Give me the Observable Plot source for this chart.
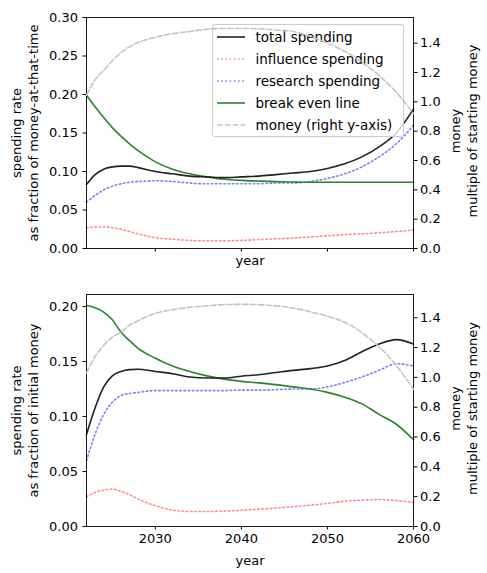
<!DOCTYPE html>
<html><head><meta charset="utf-8">
<script src="https://cdn.jsdelivr.net/npm/d3@7"></script>
<script src="https://cdn.jsdelivr.net/npm/@observablehq/plot@0.6"></script>
<style>
body{margin:0;background:#fff;}
#chart{position:relative;width:487px;height:573px;font-family:"DejaVu Sans",sans-serif;overflow:hidden;}
#chart > svg{position:absolute;left:0;}
.legend{position:absolute;left:211.5px;top:24px;width:192px;height:113px;box-sizing:border-box;border:1px solid #cccccc;border-radius:3px;background:rgba(255,255,255,0.8);font-family:"DejaVu Sans",sans-serif;font-size:13.5px;color:#000;}
.legend .row{position:absolute;left:0;height:20px;display:flex;align-items:center;white-space:nowrap;}
.legend svg{margin-left:4px;margin-right:11px;}
</style></head><body><div id="chart"></div>
<script>
// ---- data ----
const years = [2022,2023,2024,2025,2026,2027,2028,2030,2032,2034,2036,2038,2040,2042,2044,2046,2048,2050,2052,2054,2056,2058,2060];

// top panel: spending rate as fraction of money-at-that-time
const topTotal     = [0.083,0.096,0.103,0.106,0.107,0.107,0.105,0.100,0.097,0.094,0.093,0.092,0.093,0.094,0.096,0.098,0.100,0.104,0.110,0.119,0.132,0.150,0.181];
const topInfluence = [0.027,0.028,0.028,0.027,0.025,0.022,0.019,0.014,0.012,0.0105,0.010,0.010,0.0105,0.0115,0.0125,0.0135,0.015,0.0165,0.018,0.019,0.0205,0.022,0.024];
const topResearch  = [0.060,0.069,0.076,0.081,0.084,0.086,0.087,0.088,0.087,0.085,0.084,0.084,0.084,0.084,0.085,0.085,0.087,0.091,0.097,0.106,0.119,0.136,0.160];
const topBreakEven = [0.199,0.184,0.170,0.157,0.146,0.136,0.127,0.1125,0.103,0.097,0.093,0.090,0.0885,0.0876,0.0868,0.0863,0.086,0.086,0.086,0.086,0.086,0.086,0.086];
const topMoney     = [1.045,1.15,1.215,1.28,1.335,1.375,1.405,1.44,1.465,1.48,1.495,1.50,1.50,1.498,1.49,1.48,1.445,1.40,1.345,1.27,1.18,1.065,0.92];

// bottom panel: spending rate as fraction of initial money
const botTotal     = [0.0836,0.108,0.127,0.137,0.141,0.1427,0.143,0.141,0.139,0.136,0.135,0.135,0.1367,0.138,0.140,0.142,0.1436,0.146,0.151,0.159,0.166,0.170,0.166];
const botInfluence = [0.027,0.031,0.033,0.034,0.032,0.029,0.025,0.019,0.015,0.0136,0.0136,0.014,0.0148,0.0158,0.0167,0.018,0.0194,0.021,0.023,0.024,0.0245,0.0236,0.022];
const botResearch  = [0.060,0.084,0.102,0.113,0.119,0.121,0.122,0.1236,0.1236,0.1236,0.1236,0.1236,0.124,0.124,0.1245,0.125,0.125,0.127,0.131,0.136,0.142,0.148,0.146];
const botBreakEven = [0.201,0.199,0.195,0.188,0.177,0.169,0.162,0.153,0.146,0.141,0.137,0.134,0.132,0.1306,0.129,0.127,0.125,0.122,0.1176,0.1115,0.102,0.093,0.079];
const botMoney     = [1.03,1.14,1.215,1.27,1.305,1.35,1.38,1.43,1.454,1.47,1.48,1.488,1.49,1.488,1.48,1.465,1.44,1.41,1.37,1.30,1.205,1.08,0.92];

const xTicks = [2030,2040,2050,2060];
const topLeftTicks = [0,0.05,0.10,0.15,0.20,0.25,0.30];
const botLeftTicks = [0,0.05,0.10,0.15,0.20];
const rightTicks = [0,0.2,0.4,0.6,0.8,1.0,1.2,1.4];

const legendItems = ["total spending","influence spending","research spending","break even line","money (right y-axis)"];

// ---- styles ----
const S = {
  total:     {stroke:"#222222"},
  influence: {stroke:"#ff8c8c", strokeDasharray:"1.6,2.6"},
  research:  {stroke:"#8080ff", strokeDasharray:"1.6,2.6"},
  breakEven: {stroke:"#2a842a"},
  money:     {stroke:"#c4c4c4", strokeDasharray:"5.5,2.4"}
};

const W = 487;
const chartEl = document.getElementById("chart");
const rows = vals => years.map((year,i)=>({year, v: vals[i]}));

function panel(cfg){
  const k = cfg.yMax / cfg.rMax;
  const common = {
    width: W, height: cfg.height,
    marginTop: cfg.mt, marginBottom: cfg.mb, marginLeft: 86, marginRight: 74,
    y: {domain:[0,cfg.yMax]},
    style: {fontFamily:"DejaVu Sans", fontSize:"13px", color:"#000", background:"transparent", overflow:"visible"}
  };
  const line = (vals, st, f = d => d.v) => Plot.line(rows(vals), {x:"year", y:f, curve:"monotone-x", strokeWidth:1.6, ...st});
  const base = Plot.plot({...common, x: {domain:[2022,2060]}, marks:[
    Plot.axisY({ticks: cfg.leftTicks, tickSize:3.5, tickPadding:5, tickFormat: d => d.toFixed(2), label:null}),
    Plot.axisX({ticks: xTicks, tickSize:3.5, tickPadding:4, tickFormat: cfg.showX ? (d => String(d)) : (() => ""), label:null}),
    line(cfg.influence, S.influence),
    line(cfg.research, S.research),
    line(cfg.breakEven, S.breakEven),
    line(cfg.total, S.total),
    Plot.frame({stroke:"#000", strokeWidth:0.9}),
    Plot.text([cfg.leftLabel], {frameAnchor:"left", rotate:-90, dx:-62.5, lineHeight:1.3, textAnchor:"middle", lineAnchor:"middle", fontSize:13}),
    Plot.text(["year"], {frameAnchor:"bottom", dy:cfg.yearDy, lineAnchor:"middle", fontSize:13})
  ]});
  const over = Plot.plot({...common, x: {domain:[2022,2060], axis:null}, marks:[
    line(cfg.money, S.money, d => d.v * k),
    Plot.axisY({ticks: rightTicks.map(t => t*k), anchor:"right", tickSize:3.5, tickPadding:3, tickFormat: d => (d/k).toFixed(1), label:null}),
    Plot.text(["money\nmultiple of starting money"], {frameAnchor:"right", rotate:-90, dx:49.5, dy:-2, lineHeight:1.3, textAnchor:"middle", lineAnchor:"middle", fontSize:13})
  ]});
  base.style.top = cfg.top + "px";
  over.style.top = cfg.top + "px";
  over.style.pointerEvents = "none";
  return {base, over};
}

const topPanel = panel({
  top:0, height:280, mt:17, mb:32, yMax:0.30, rMax:1.575,
  leftTicks: topLeftTicks, showX:false, yearDy:12,
  total: topTotal, influence: topInfluence, research: topResearch, breakEven: topBreakEven, money: topMoney,
  leftLabel: "spending rate\nas fraction of money-at-that-time"
});
const botPanel = panel({
  top:280, height:293, mt:14, mb:47, yMax:0.211, rMax:1.556,
  leftTicks: botLeftTicks, showX:true, yearDy:34,
  total: botTotal, influence: botInfluence, research: botResearch, breakEven: botBreakEven, money: botMoney,
  leftLabel: "spending rate\nas fraction of initial money"
});

// legend (between the spending lines and the right-axis money line, as in the reference)
const legend = document.createElement("div");
legend.className = "legend";
const styleKeys = ["total","influence","research","breakEven","money"];
legendItems.forEach((label,i)=>{
  const st = S[styleKeys[i]];
  const row = document.createElement("div");
  row.className = "row";
  row.style.top = (2 + i*22.1) + "px";
  row.innerHTML = `<svg width="28" height="10"><line x1="0" y1="5" x2="28" y2="5" stroke="${st.stroke}" stroke-width="1.6" ${st.strokeDasharray ? `stroke-dasharray="${st.strokeDasharray}"` : ""}/></svg><span>${label}</span>`;
  legend.appendChild(row);
});

chartEl.appendChild(topPanel.base);
chartEl.appendChild(legend);
chartEl.appendChild(topPanel.over);
chartEl.appendChild(botPanel.base);
chartEl.appendChild(botPanel.over);
</script>
</body></html>
